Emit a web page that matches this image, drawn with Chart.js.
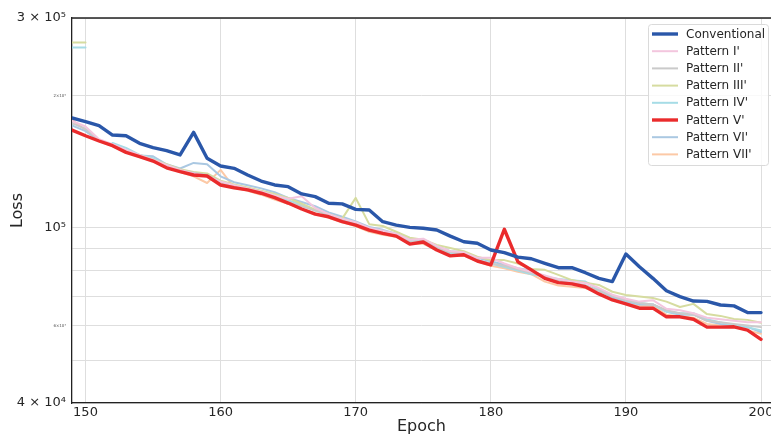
<!DOCTYPE html>
<html>
<head>
<meta charset="utf-8">
<script src="https://cdn.jsdelivr.net/npm/chart.js@4.4.1/dist/chart.umd.min.js"></script>
<style>
html, body { margin: 0; padding: 0; background: #fff; }
#wrap { width: 771px; height: 438px; }
</style>
</head>
<body>
<div id="wrap"><canvas id="one" width="771" height="438"></canvas></div>
<script>

// epochs 149..200, losses in thousands
var epochs = [149, 150, 151, 152, 153, 154, 155, 156, 157, 158, 159, 160, 161, 162, 163, 164, 165, 166, 167, 168,
    169, 170, 171, 172, 173, 174, 175, 176, 177, 178, 179, 180, 181, 182, 183, 184, 185, 186, 187, 188,
    189, 190, 191, 192, 193, 194, 195, 196, 197, 198, 199, 200];

var conventional = [177.8, 174.5, 170.9, 162.6, 162.0, 155.7, 152.2, 149.8, 146.5, 164.9, 144.0, 138.3, 136.6, 131.9, 127.8, 125.2, 124.1, 119.5, 117.8, 113.8,
    113.4, 110.2, 109.8, 103.3, 101.5, 100.3, 99.8, 98.9, 95.8, 93.0, 92.3, 89.1, 87.9, 85.8, 85.1, 83.1, 81.2, 81.2, 79.1, 76.8,
    75.5, 87.2, 81.6, 76.8, 72.0, 69.8, 68.2, 68.1, 66.8, 66.5, 64.2, 64.2];

var patternI = [175, 170, 159, 155, 150.5, 146.5, 143, 139, 135.5, 133, 131, 127.5, 125, 123, 121, 118.5, 116.5, 118, 111, 107.5,
    105, 103, 100, 98.5, 97, 94, 94.5, 91, 88.5, 88, 85.5, 85.5, 83, 81, 79.5, 78, 76.5, 75.5, 75, 73,
    70.5, 69, 68, 68.5, 65.5, 65, 64, 62.5, 62, 61.5, 61, 61];

var patternII = [173, 168, 158, 154, 149.5, 146, 142.5, 138, 135, 133.5, 132, 127, 124, 122, 120, 117.5, 114.5, 112, 109.5, 107,
    104, 102, 99.5, 97.5, 96.5, 93, 93.5, 90, 88, 87.5, 84.5, 83, 82, 80.5, 79, 77.5, 76, 75.5, 74, 72,
    70, 68.5, 67.5, 67, 65, 64, 63.5, 61.5, 61, 60.5, 60, 59.5];

var patternIII = [264, 264, null, 154, 149, 146.5, 143, 139.5, 136, 134, 133, 128, 125.5, 123.5, 121.5, 119.5, 117, 113.5, 110, 107.5,
    105, 117, 102, 101, 98, 95, 94, 91.5, 90, 88.5, 86, 84.5, 84.5, 83, 80.7, 80.3, 78.2, 76.1, 75.1, 74.2,
    71.6, 70.4, 69.8, 69.3, 68, 66.1, 67.2, 63.7, 63.1, 62.1, 61.8, 60.9];

var patternIV = [257, 257, null, 156, 152, 146.5, 144, 138.5, 135, 133, 132, 127, 124.5, 123, 120.5, 118, 115.5, 113, 109.5, 107.5,
    105, 102.5, 99.5, 98.5, 96.5, 93.5, 92.5, 90, 87.5, 87.5, 84.5, 83, 81.5, 80, 78.5, 77.5, 76.5, 76, 75.5, 72.5,
    70, 68.5, 67.5, 67, 64.5, 64, 64, 62, 61, 60, 59.5, 58.5];

var patternV = [166.9, 162.0, 157.6, 153.8, 148.5, 145.2, 141.9, 137.0, 134.2, 131.9, 131.2, 125.2, 123.4, 122.0, 119.9, 117.2, 113.9, 110.4, 107.5, 106.0,
    103.3, 101.5, 98.9, 97.2, 95.8, 91.9, 92.9, 89.1, 86.4, 86.9, 84.1, 82.4, 99.3, 83.8, 80.3, 76.8, 75.1, 74.6, 73.5, 70.8,
    68.6, 67.2, 65.7, 65.7, 62.8, 62.8, 62.0, 59.5, 59.5, 59.6, 58.6, 55.8];

var patternVI = [171, 166, 158, 154.5, 150, 146, 145.5, 139.5, 136.5, 140.5, 139.5, 131, 127, 125, 123, 120.5, 117, 114.5, 112, 108.5,
    106, 103.5, 100.5, 99, 97, 94.5, 93.5, 91, 88.5, 88, 85.5, 84, 82.5, 81, 80, 77.5, 76, 75, 74, 72,
    69.5, 68, 67, 67, 64.5, 63.5, 63.5, 61.5, 60.5, 60, 59.5, 58];

var patternVII = [176, 167, 157.5, 153.5, 149, 145, 142, 137.5, 134, 131, 126.5, 135.5, 123.5, 121.5, 119, 116, 113.5, 110.5, 108, 105.5,
    103, 101, 98, 96.5, 95.5, 92, 92, 89, 86.5, 86.5, 84, 82, 81, 79.5, 78.5, 75.5, 74, 73.5, 73, 71,
    68.5, 67.5, 66.5, 66.5, 63.5, 63, 62.5, 60.5, 60, 59.5, 58.5, 57.5];

var seriesNames = ['Conventional', "Pattern I'", "Pattern II'", "Pattern III'", "Pattern IV'", "Pattern V'", "Pattern VI'", "Pattern VII'"];
var seriesData = [conventional, patternI, patternII, patternIII, patternIV, patternV, patternVI, patternVII];
var seriesColors = ['#2a57a9', '#f3c6de', '#cacaca', '#d6dca0', '#a6dce6', '#ea2b2c', '#aac8e2', '#fcc9a6'];
var seriesWidths = [3.4, 2, 2, 2, 2, 3.4, 2, 2];
var seriesOrder = [0, 2, 2, 2, 2, 1, 2, 2];

var xTicks = [150, 160, 170, 180, 190, 200];
var yTicks = [40000, 50000, 60000, 70000, 80000, 90000, 100000, 200000, 300000];
var yLabels = { 40000: '4 × 10⁴', 60000: '6×10⁴', 100000: '10⁵', 200000: '2×10⁵', 300000: '3 × 10⁵' };
var yTinyTicks = [60000, 200000];

var textColor = '#262626';

function toPoints(values){
    var pts = [];
    for(var i=0; i<epochs.length; i++){
        pts.push({ x: epochs[i], y: values[i] == null ? null : values[i] * 1000 });
    }
    return pts;
}

function buildDatasets(){
    var sets = [];
    for(var i=0; i<seriesNames.length; i++){
        sets.push({
            label: seriesNames[i],
            data: toPoints(seriesData[i]),
            borderColor: seriesColors[i],
            backgroundColor: seriesColors[i],
            borderWidth: seriesWidths[i],
            order: seriesOrder[i],
            pointRadius: 0,
            tension: 0,
            spanGaps: false,
            borderJoinStyle: 'round',
            borderCapStyle: 'round'
        });
    }
    return sets;
}

// boxed legend in the upper right corner, plus the top edge of the frame
var frameAndLegend = {
    id: 'frameAndLegend',
    afterDraw: function(chart){
        var ctx = chart.ctx;
        var area = chart.chartArea;

        ctx.save();
        ctx.strokeStyle = '#222';
        ctx.lineWidth = 1.3;
        ctx.beginPath();
        ctx.moveTo(area.left, area.top);
        ctx.lineTo(area.right, area.top);
        ctx.stroke();

        var bx = 648.5, by = 24.5, bw = 120, bh = 141, r = 3;
        ctx.beginPath();
        ctx.moveTo(bx + r, by);
        ctx.lineTo(bx + bw - r, by);
        ctx.arcTo(bx + bw, by, bx + bw, by + r, r);
        ctx.lineTo(bx + bw, by + bh - r);
        ctx.arcTo(bx + bw, by + bh, bx + bw - r, by + bh, r);
        ctx.lineTo(bx + r, by + bh);
        ctx.arcTo(bx, by + bh, bx, by + bh - r, r);
        ctx.lineTo(bx, by + r);
        ctx.arcTo(bx, by, bx + r, by, r);
        ctx.closePath();
        ctx.fillStyle = 'rgba(255,255,255,0.8)';
        ctx.fill();
        ctx.strokeStyle = '#dadada';
        ctx.lineWidth = 1;
        ctx.stroke();

        var sets = chart.data.datasets;
        ctx.font = '12px "DejaVu Sans"';
        ctx.textBaseline = 'middle';
        ctx.textAlign = 'left';
        for(var i=0; i<sets.length; i++){
            var rowY = 34 + i * 17.2;
            ctx.strokeStyle = sets[i].borderColor;
            ctx.lineWidth = sets[i].borderWidth;
            ctx.beginPath();
            ctx.moveTo(652, rowY);
            ctx.lineTo(678, rowY);
            ctx.stroke();
            ctx.fillStyle = textColor;
            ctx.fillText(sets[i].label, 686, rowY + 0.5);
        }
        ctx.restore();
    }
};

var ctx = document.getElementById('one').getContext('2d');
var myChart = new Chart(ctx, {
    type: 'line',
    data: { datasets: buildDatasets() },
    options: {
        responsive: false,
        animation: false,
        layout: { padding: { top: 18, right: 0, left: 0, bottom: 0 } },
        plugins: {
            legend: { display: false },
            tooltip: { enabled: false }
        },
        scales: {
            x: {
                type: 'linear',
                min: 149,
                max: 200.74,
                afterBuildTicks: function(scale){
                    scale.ticks = xTicks.map(function(v){ return { value: v }; });
                },
                afterFit: function(scale){
                    scale.height = 35;
                    scale.paddingRight = 0;
                    scale.paddingLeft = 0;
                },
                ticks: {
                    color: textColor,
                    font: { family: 'DejaVu Sans', size: 13 },
                    padding: 2,
                    maxRotation: 0,
                    callback: function(v){ return String(v); }
                },
                grid: { color: '#dedede', lineWidth: 1, drawTicks: false },
                border: { display: true, color: '#222', width: 1.3 },
                title: {
                    display: true,
                    text: 'Epoch',
                    color: textColor,
                    font: { family: 'DejaVu Sans', size: 16 },
                    padding: { top: 0, bottom: 2 }
                }
            },
            y: {
                type: 'logarithmic',
                min: 40000,
                max: 300000,
                afterBuildTicks: function(scale){
                    scale.ticks = yTicks.map(function(v){ return { value: v }; });
                },
                afterFit: function(scale){
                    scale.width = 72;
                },
                ticks: {
                    color: function(c){
                        return yTinyTicks.indexOf(c.tick.value) >= 0 ? '#555' : textColor;
                    },
                    font: function(c){
                        var tiny = c.tick && yTinyTicks.indexOf(c.tick.value) >= 0;
                        return { family: 'DejaVu Sans', size: tiny ? 4 : 13 };
                    },
                    padding: 6,
                    autoSkip: false,
                    callback: function(v){ return yLabels[v] || ''; }
                },
                grid: { color: '#dedede', lineWidth: 1, drawTicks: false },
                border: { display: true, color: '#222', width: 1.3 },
                title: {
                    display: true,
                    text: 'Loss',
                    color: textColor,
                    font: { family: 'DejaVu Sans', size: 16 },
                    padding: { top: 8, bottom: 0 }
                }
            }
        }
    },
    plugins: [frameAndLegend]
});

</script>
</body>
</html>
